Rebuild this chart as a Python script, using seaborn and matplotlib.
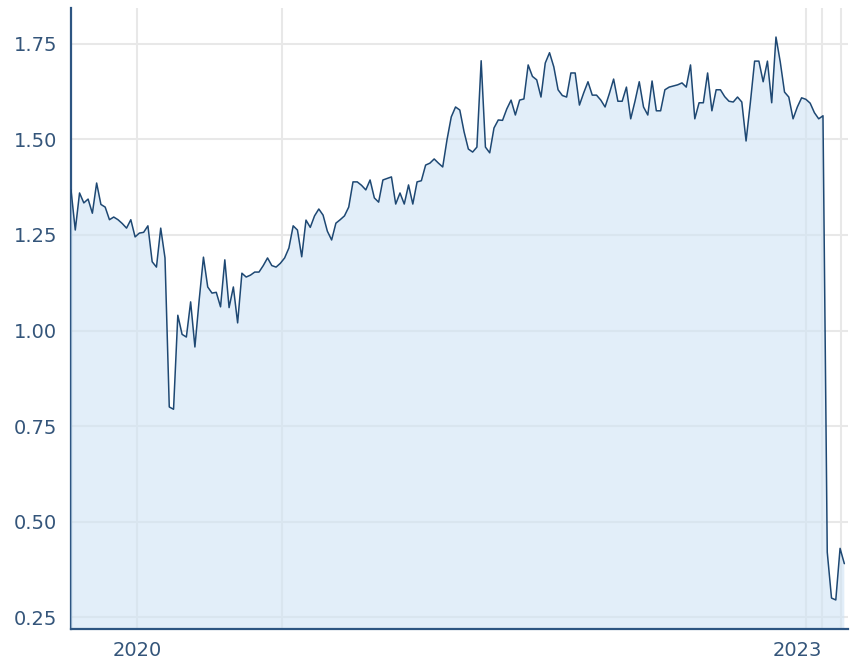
import pandas as pd
import seaborn as sns
import matplotlib.pyplot as plt
from matplotlib.transforms import ScaledTranslation

# weekly values
start_date = '2019-09-15'
values = [
    1.368, 1.263, 1.36, 1.334, 1.344, 1.307, 1.386, 1.33, 1.323, 1.29,
    1.297, 1.29, 1.28, 1.268, 1.29, 1.245, 1.255, 1.257, 1.274, 1.18,
    1.166, 1.268, 1.19, 0.80, 0.794, 1.04, 0.99, 0.983, 1.075, 0.957,
    1.08, 1.192, 1.114, 1.098, 1.10, 1.062, 1.185, 1.06, 1.114, 1.02,
    1.15, 1.14, 1.145, 1.153, 1.153, 1.17, 1.19, 1.17, 1.166, 1.176,
    1.19, 1.216, 1.274, 1.263, 1.193, 1.289, 1.27, 1.30, 1.318, 1.302,
    1.26, 1.237, 1.281, 1.29, 1.30, 1.323, 1.389, 1.389, 1.38, 1.368,
    1.394, 1.347, 1.336, 1.394, 1.398, 1.402, 1.331, 1.36, 1.331, 1.381,
    1.331, 1.389, 1.392, 1.433, 1.438, 1.449, 1.438, 1.428, 1.499, 1.559,
    1.585, 1.577, 1.52, 1.475, 1.467, 1.48, 1.706, 1.48, 1.465, 1.53,
    1.551, 1.55, 1.58, 1.603, 1.564, 1.603, 1.606, 1.695, 1.665, 1.656,
    1.611, 1.70, 1.727, 1.69, 1.63, 1.615, 1.611, 1.674, 1.674, 1.59,
    1.622, 1.651, 1.616, 1.616, 1.603, 1.585, 1.62, 1.658, 1.60, 1.60,
    1.637, 1.554, 1.60, 1.651, 1.585, 1.564, 1.653, 1.575, 1.575, 1.63,
    1.637, 1.64, 1.643, 1.648, 1.637, 1.695, 1.554, 1.596, 1.596, 1.674,
    1.575, 1.63, 1.63, 1.612, 1.60, 1.598, 1.611, 1.598, 1.496, 1.596,
    1.705, 1.705, 1.651, 1.705, 1.596, 1.768, 1.703, 1.624, 1.611, 1.554,
    1.585, 1.609, 1.605, 1.595, 1.57, 1.554, 1.562, 0.42, 0.30, 0.295,
    0.43, 0.39,
]
year_ticks = ['2020-01-01', '2023-01-01']
year_labels = ['2020', '2023']
grid_dates = ['2020-08-25', '2023-01-28', '2023-02-28']

df = pd.DataFrame({
    'date': pd.date_range(start_date, periods=len(values), freq='7D'),
    'value': values,
})

line_color = '#1e4873'
fill_color = (207 / 255, 227 / 255, 245 / 255)
axis_color = '#2d5582'
text_color = '#34557a'
grid_color = '#e8e8e8'

sns.set_style('white')
plt.rcParams['font.family'] = ['DejaVu Sans']

fig = plt.figure(figsize=(8.52, 6.61), dpi=100)
ax = fig.add_axes([71 / 852, 32 / 661, 777 / 852, 621 / 661])

ax.fill_between(df['date'], df['value'], 0, color=fill_color, alpha=0.6,
                linewidth=0, zorder=3)
sns.lineplot(data=df, x='date', y='value', ax=ax, color=line_color,
             linewidth=1.1, zorder=4)

ax.set_xlim(pd.Timestamp('2019-09-15'), pd.Timestamp('2023-03-11'))
ax.set_ylim(0.219, 1.844)

ax.set_yticks([0.25, 0.5, 0.75, 1.0, 1.25, 1.5, 1.75])
ax.set_yticklabels(['0.25', '0.50', '0.75', '1.00', '1.25', '1.50', '1.75'])
ax.set_xticks(pd.to_datetime(year_ticks))
ax.set_xticklabels(year_labels)
ax.set_xticks(pd.to_datetime(grid_dates), minor=True)

ax.grid(False)
ax.yaxis.grid(True, color=grid_color, linewidth=1.5, zorder=0)
ax.xaxis.grid(True, which='both', color=grid_color, linewidth=1.5, zorder=0)
ax.set_axisbelow(True)

ax.tick_params(axis='both', which='both', length=0, colors=text_color, labelsize=14)
ax.tick_params(axis='y', pad=10)
ax.tick_params(axis='x', pad=9)

# nudge the 2023 label slightly left, as in the reference
lbl = ax.get_xticklabels()[1]
lbl.set_transform(lbl.get_transform() + ScaledTranslation(-9 / 100, 0, fig.dpi_scale_trans))

for side in ['top', 'right']:
    ax.spines[side].set_visible(False)
for side in ['left', 'bottom']:
    ax.spines[side].set_color(axis_color)
    ax.spines[side].set_linewidth(1.6)
ax.spines['bottom'].set_zorder(5)

ax.set_xlabel('')
ax.set_ylabel('')

fig.savefig('out.png', dpi=100)
